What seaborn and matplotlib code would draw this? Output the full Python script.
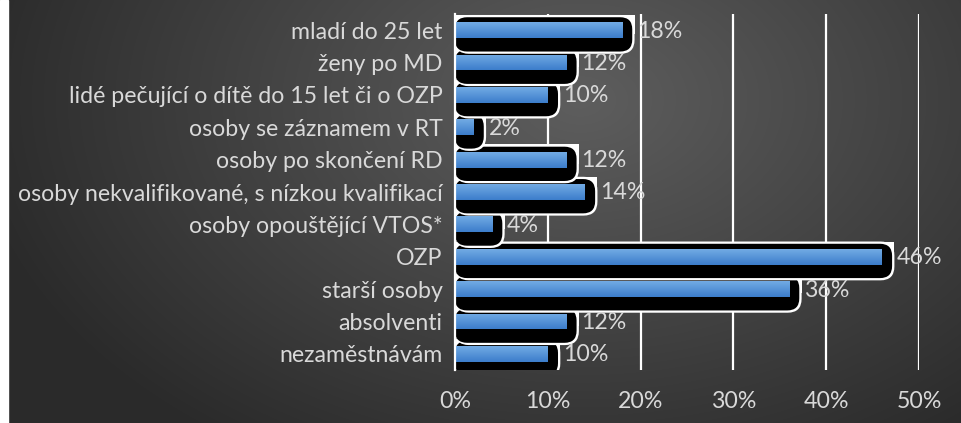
import numpy as np
import matplotlib
matplotlib.use("Agg")
import matplotlib.pyplot as plt
import seaborn as sns
from matplotlib.patches import FancyBboxPatch, Rectangle

# chart data (top to bottom as shown)
categories = [
    "mladí do 25 let",
    "ženy po MD",
    "lidé pečující o dítě do 15 let či o OZP",
    "osoby se záznamem v RT",
    "osoby po skončení RD",
    "osoby nekvalifikované, s nízkou kvalifikací",
    "osoby opouštějící VTOS*",
    "OZP",
    "starší osoby",
    "absolventi",
    "nezaměstnávám",
]
values = [18, 12, 10, 2, 12, 14, 4, 46, 36, 12, 10]
x_ticks = [0, 10, 20, 30, 40, 50]
x_tick_labels = ["0%", "10%", "20%", "30%", "40%", "50%"]

TEXT = "#d9d9d9"
FS = 16.7
W, H = 961, 423

sns.set_style("white")
plt.rcParams["font.family"] = ["Lato", "DejaVu Sans"]

fig = plt.figure(figsize=(W / 100, H / 100), dpi=100)

# dark radial background
bg = fig.add_axes([0, 0, 1, 1], zorder=-5)
xx, yy = np.meshgrid(np.arange(W), np.arange(H))
d = np.sqrt(((xx - 580) / 620.0) ** 2 + ((yy - 100) / 420.0) ** 2)
d = np.clip(d, 0, 1)
shade = (0x5e + (0x2a - 0x5e) * d) / 255.0
bg.imshow(np.dstack([shade, shade, shade]), extent=[0, W, H, 0], aspect="auto")
bg.add_patch(Rectangle((0, 0), 8, H, color="white"))
bg.set_xlim(0, W)
bg.set_ylim(H, 0)
bg.axis("off")

ax = fig.add_axes([455 / W, 1 - 370 / H, 464 / W, 356 / H])
ax.patch.set_alpha(0)

sns.barplot(x=values, y=categories, orient="h", color="#4a8ad6",
            width=0.49, ax=ax, zorder=60, linewidth=0)
bars = list(ax.patches)

# black shadow shapes with white rim, lower rows drawn first
aspect = (1 / 32.36) / (1 / 9.28)
n = len(values)
top, bot = 0.40, 0.66     # shadow extent above / below the bar centre
rim_x, rim_y = 0.25, 0.07
for i in range(n - 1, -1, -1):
    v = values[i]
    z = 10 + 3 * (n - i)
    # white rim: rounded at the bottom, square at the top right
    ax.add_patch(FancyBboxPatch((0, i - top - rim_y), v + 1.1 + rim_x, top + bot + 2 * rim_y,
                                boxstyle="round,pad=0,rounding_size=1.5",
                                mutation_aspect=aspect, facecolor="white",
                                edgecolor="none", zorder=z))
    ax.add_patch(Rectangle((0, i - top - rim_y), v + 1.1 + rim_x, top + 0.2,
                           facecolor="white", edgecolor="none", zorder=z))
    ax.add_patch(FancyBboxPatch((0, i - top), v + 1.1, top + bot,
                                boxstyle="round,pad=0,rounding_size=1.3",
                                mutation_aspect=aspect, facecolor="black",
                                edgecolor="none", zorder=z + 1))
    ax.text(v + 1.6, i + 0.03, f"{v}%", color=TEXT, fontsize=FS,
            va="center", ha="left", zorder=65)

# gradient fill on the blue bars
grad = np.linspace(0, 1, 64).reshape(-1, 1)
top_c = np.array([0x72, 0xab, 0xe4]) / 255.0
bot_c = np.array([0x3c, 0x7d, 0xcb]) / 255.0
grad_img = top_c + (bot_c - top_c) * grad[..., None]
for p in bars:
    x0, y0, w, h = p.get_x(), p.get_y(), p.get_width(), p.get_height()
    im = ax.imshow(grad_img, extent=[x0, x0 + w, y0 + h, y0],
                   origin="upper", aspect="auto", zorder=61)
    im.set_clip_path(p)

ax.set_xlim(0, 50)
ax.set_ylim(n - 0.5, -0.5)
ax.set_xticks(x_ticks)
ax.set_xticklabels(x_tick_labels)
for x in x_ticks[1:]:
    ax.axvline(x, color="white", linewidth=1.6, zorder=1)

for s in ["top", "right", "bottom"]:
    ax.spines[s].set_visible(False)
ax.spines["left"].set_color("white")
ax.spines["left"].set_linewidth(1.6)
ax.spines["left"].set_zorder(70)

ax.tick_params(axis="x", length=0, pad=15, labelsize=FS, labelcolor=TEXT)
ax.tick_params(axis="y", length=0, pad=9, labelsize=FS, labelcolor=TEXT)
ax.set_xlabel("")
ax.set_ylabel("")

fig.savefig("out.png", dpi=100)
